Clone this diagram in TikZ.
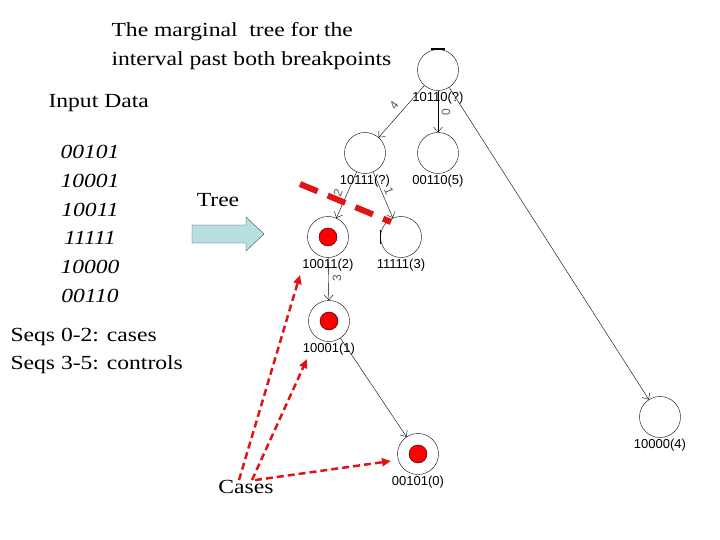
\documentclass[tikz,border=0pt]{standalone}
\usepackage{fontspec}
\setmainfont{Liberation Serif}[FakeStretch=1.18]
\newfontfamily\treefont{Liberation Sans}
\usepackage{tikz}
\usetikzlibrary{arrows.meta}
\definecolor{caseRed}{RGB}{225,20,20}
\definecolor{arrowBlue}{RGB}{183,222,224}

\begin{document}
\begin{tikzpicture}[x=1pt,y=-1pt,
  tnode/.style={circle,draw,minimum size=41pt,inner sep=0pt},
  hit/.style={circle,draw=black,fill=red,minimum size=18pt,inner sep=0pt},
  link/.style={-{Straight Barb[length=5pt,width=9pt]}},
  elabel/.style={font=\treefont\fontsize{12}{12}\selectfont,text=black!65,inner sep=0pt},
  every label/.style={font=\treefont\fontsize{13}{14}\selectfont,inner sep=1pt},
  txt/.style={font=\fontsize{20}{28.5}\selectfont},
  datafont/.style={font=\fontsize{20}{28.7}\selectfont\itshape},
  casearrow/.style={caseRed,line width=2.5pt,dash pattern=on 7pt off 4pt,
    -{Triangle[length=9pt,width=8pt]}}]
  \useasboundingbox (0,0) rectangle (720,540);

  % Left side: heading, input sequences and groups
  \node[txt,anchor=west,align=left] (title) at (108,46)
    {The marginal~ tree for the\\interval past both breakpoints};
  \node[txt,anchor=west] (input) at (45,103) {Input Data};
  \node[datafont,align=center] (seqs) at (90,224)
    {00101\\10001\\10011\\11111\\10000\\00110};
  \node[txt,anchor=west,align=left] (groups) at (7,351)
    {Seqs 0-2: cases\\Seqs 3-5: controls};

  % Block arrow towards the tree
  \node[txt] (treeText) at (218,200) {Tree};
  \draw[draw=black!70,fill=arrowBlue] (192,225) -- (246,225) -- (246,217)
    -- (264,234) -- (246,251) -- (246,243) -- (192,243) -- cycle;

  % Tree nodes
  \node[tnode,label={below:10110(?)}] (root) at (438,70) {};
  \node[tnode,label={below:10111(?)}] (n7) at (365,153) {};
  \node[tnode,label={below:00110(5)}] (n5) at (438,153) {};
  \node[tnode,label={below:10011(2)}] (n2) at (328,237) {};
  \node[tnode,label={below:11111(3)}] (n3) at (401,237) {};
  \node[tnode,label={below:10001(1)}] (n1) at (329,321) {};
  \node[tnode,label={below:00101(0)}] (n0) at (418,454) {};
  \node[tnode,label={below:10000(4)}] (n4) at (660,417) {};
  \draw[line width=2pt] (root.north) ++(-7,0) -- ++(14,0);
  \draw[line width=1.5pt] (n3.west) ++(0,-7) -- ++(0,14);

  % Case sequences
  \node[hit] (d2) at (n2) {};
  \node[hit] (d1) at (n1) {};
  \node[hit] (d0) at (n0) {};

  % Tree edges
  \draw[link] (root) -- (n7);
  \draw[link] (root) -- (n5);
  \draw[link] (root) -- (n4);
  \draw[link] (n7) -- (n2);
  \draw[link] (n7) -- (n3);
  \draw[link] (n2) -- (n1);
  \draw[link] (n1) -- (n0);
  \node[elabel,rotate=53] (l4) at (394,105) {4};
  \node[elabel,rotate=90] (l0) at (446,112) {0};
  \node[elabel,rotate=68] (l2) at (338,193) {2};
  \node[elabel,rotate=-68] (l1) at (389,191) {1};
  \node[elabel,rotate=90] (l3) at (337,278) {3};

  % Cut through the tree
  \coordinate (cutA) at (300,184);
  \coordinate (cutB) at (391,222);
  \draw[caseRed,line width=6pt,dash pattern=on 19pt off 11pt] (cutA) -- (cutB);

  % Cases pointers
  \node[txt,inner sep=0pt] (cases) at (246,487) {Cases};
  \coordinate (toN2) at (300,275);
  \coordinate (toN1) at (307,359);
  \coordinate (toN0) at (391,461);
  \draw[casearrow] ([xshift=-7pt]cases.north) -- (toN2);
  \draw[casearrow] ([xshift=6pt]cases.north) -- (toN1);
  \draw[casearrow] ([xshift=9pt]cases.north) -- (toN0);
\end{tikzpicture}
\end{document}
